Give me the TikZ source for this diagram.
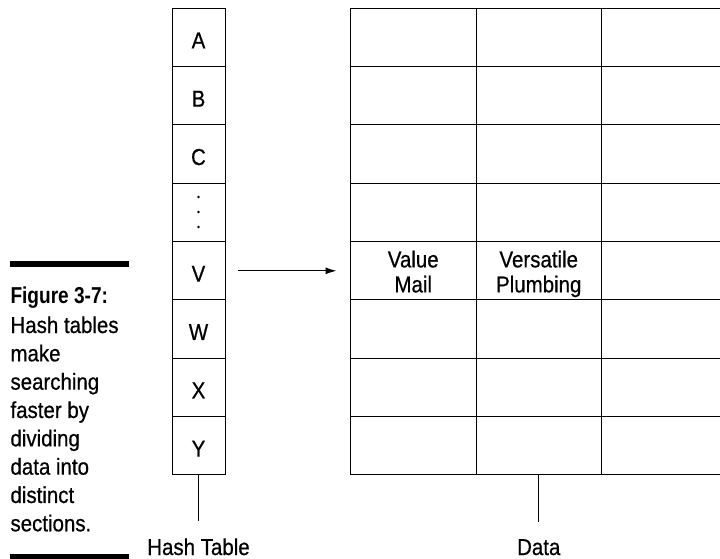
\documentclass[tikz,border=0pt]{standalone}
\usepackage{fontspec}
\setmainfont{Liberation Sans}[FakeStretch=0.89,UprightFeatures={FakeBold=0.6},BoldFeatures={FakeStretch=0.83}]
\usetikzlibrary{arrows.meta,calc}
\begin{document}
\begin{tikzpicture}[x=1pt,y=-1pt,line width=1pt,
  hcell/.style={draw,minimum width=53pt,minimum height=58.33pt,inner sep=0pt,outer sep=0pt,anchor=north west},
  dcell/.style={draw,minimum width=125.5pt,minimum height=58.33pt,inner sep=0pt,outer sep=0pt,anchor=north west},
  ocell/.style={minimum width=118.3pt,minimum height=58.33pt,inner sep=0pt,outer sep=0pt,anchor=north west},
  txt/.style={font=\fontsize{23}{25}\selectfont,inner sep=0pt},
  captxt/.style={font=\fontsize{23}{28}\selectfont,inner sep=0pt,anchor=base west},
  dotmark/.style={fill,circle,inner sep=0pt,minimum size=2.8pt},
  rule/.style={line width=5.5pt}]
\useasboundingbox (0,0) rectangle (720,559);
% hash table
\foreach \i in {0,...,7} {
  \pgfmathsetmacro\yy{8.33+58.33*\i}
  \node[hcell] (h\i) at (172,\yy) {};
}
\foreach \L/\i in {A/0,B/1,C/2,V/4,W/5,X/6,Y/7} {
  \node[txt,anchor=base] (t\i) at ($(h\i.north)+(0,40)$) {\L};
}
\node[dotmark] (dot1) at (198.5,197) {};
\node[dotmark] (dot2) at (198.5,212) {};
\node[dotmark] (dot3) at (198.5,227) {};
% data table
\foreach \r in {0,...,7} {
  \pgfmathsetmacro\yy{8.33+58.33*\r}
  \node[dcell] (d\r c1) at (350.5,\yy) {};
  \node[dcell] (d\r c2) at (476,\yy) {};
  \node[ocell] (d\r c3) at (601.5,\yy) {};
  \draw (d\r c3.north west) -- (d\r c3.north east);
  \draw (d\r c3.south west) -- (d\r c3.south east);
}
\node[txt,align=center,anchor=north] (vm) at (413.25,250.2) {Value\\Mail};
\node[txt,align=center,anchor=north] (vp) at (538.75,250.2) {Versatile\\Plumbing};
% arrow
\draw[-{Latex[length=11pt,width=7pt]},shorten <=13pt,shorten >=14pt] (h4.east) -- (d4c1.west);
% labels
\node[txt,anchor=base] (htl) at (198.5,555) {Hash Table};
\node[txt,anchor=base] (dl) at (538.75,555) {Data};
\draw[shorten >=16.5pt] (h7.south) -- (htl.north);
\draw[shorten >=16.5pt] (d7c2.south) -- (dl.north);
% caption
\coordinate (r1a) at (10,264);
\coordinate (r1b) at (129,264);
\coordinate (r2a) at (10,556.5);
\coordinate (r2b) at (129,556.5);
\draw[rule] (r1a) -- (r1b);
\draw[rule] (r2a) -- (r2b);
\node[captxt,font=\fontsize{23}{28}\selectfont\bfseries] (fig) at (10,303) {Figure 3-7:};
\foreach \s [count=\k from 0] in {Hash tables,make,searching,faster by,dividing,data into,distinct,sections.} {
  \node[captxt] (c\k) at (10,333+28.33*\k) {\s};
}
\end{tikzpicture}
\end{document}
